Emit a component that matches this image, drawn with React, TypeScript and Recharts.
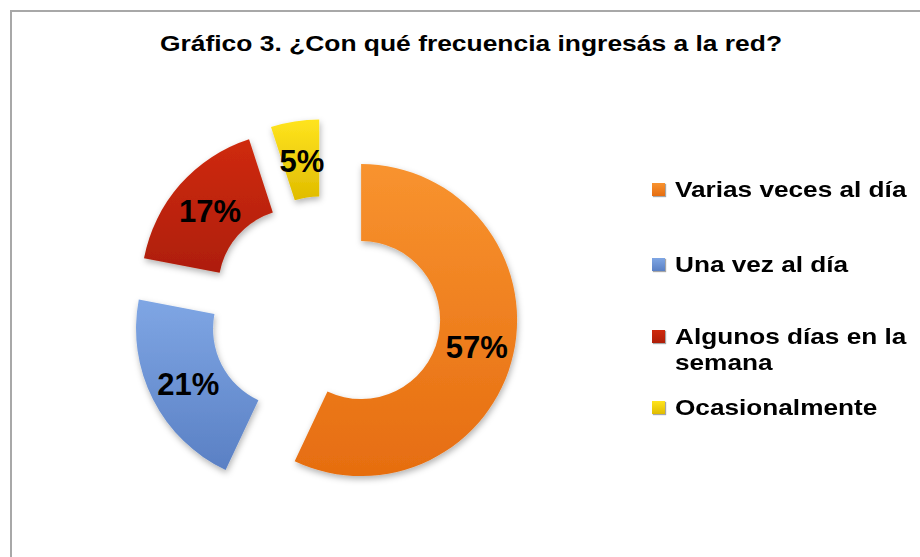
import React from "react";
import { PieChart, Pie, Sector, Legend } from "recharts";

const categories = [
  "Varias veces al día",
  "Una vez al día",
  "Algunos días en la semana",
  "Ocasionalmente",
];
const values = [57, 21, 17, 5];
const titleText = "Gráfico 3. ¿Con qué frecuencia ingresás a la red?";

const colorsTop = ["#F8932F", "#7FA6E4", "#CF2A0D", "#FFE41E"];
const colorsBottom = ["#E66D10", "#5A80C4", "#AE1E08", "#E0BC00"];

const data = categories.map((name, i) => ({ name, value: values[i] }));

const EXPLODE = 37;
const RAD = Math.PI / 180;
const FONT = "'Liberation Sans', Arial, sans-serif";

const renderSlice = (props: any) => {
  const { cx, cy, midAngle, innerRadius, outerRadius, startAngle, endAngle, index, value } = props;
  const ux = Math.cos(-midAngle * RAD);
  const uy = Math.sin(-midAngle * RAD);
  const ncx = cx + EXPLODE * ux;
  const ncy = cy + EXPLODE * uy;
  const mr = (innerRadius + outerRadius) / 2;
  const lx = ncx + mr * ux + 1;
  const ly = ncy + mr * uy + 2;
  return (
    <g key={`slice-${index}`}>
      <Sector
        cx={ncx}
        cy={ncy}
        innerRadius={innerRadius}
        outerRadius={outerRadius}
        startAngle={startAngle}
        endAngle={endAngle}
        fill={`url(#grad${index})`}
        stroke="none"
        filter="url(#shadow)"
      />
      <text
        x={lx}
        y={ly}
        textAnchor="middle"
        dominantBaseline="central"
        fontFamily={FONT}
        fontWeight="bold"
        fontSize={31}
        fill="#000"
      >
        {`${value}%`}
      </text>
    </g>
  );
};

const legendGaps = [0, 49, 46, 19];

const renderLegend = () => {
  return (
    <div style={{ fontFamily: FONT }}>
      {categories.map((cat, i) => (
        <div key={cat} style={{ display: "flex", alignItems: "flex-start", marginTop: legendGaps[i] }}>
          <div
            style={{
              width: 13,
              height: 13,
              marginTop: 6,
              marginRight: 10,
              flex: "0 0 auto",
              background: `linear-gradient(to bottom, ${colorsTop[i]}, ${colorsBottom[i]})`,
              boxShadow: "1px 1px 1px rgba(0,0,0,0.35)",
            }}
          />
          <div
            style={{
              width: 200,
              fontSize: 22,
              lineHeight: "26px",
              fontWeight: "bold",
              color: "#000",
              transform: "scaleX(1.19)",
              transformOrigin: "left top",
              whiteSpace: "normal",
            }}
          >
            {cat}
          </div>
        </div>
      ))}
    </div>
  );
};

export default function App() {
  return (
    <div style={{ position: "absolute", left: 0, top: 0, width: 920, height: 557, background: "#fff", overflow: "hidden" }}>
      <div
        style={{
          position: "absolute",
          left: 10,
          top: 10,
          width: 920,
          height: 560,
          borderTop: "2px solid #A8A8A8",
          borderLeft: "2px solid #A8A8A8",
        }}
      />
      <div
        style={{
          position: "absolute",
          left: 471,
          top: 33,
          fontFamily: FONT,
          fontWeight: "bold",
          fontSize: 22,
          lineHeight: "22px",
          whiteSpace: "nowrap",
          color: "#000",
          transform: "translateX(-50%) scaleX(1.2)",
        }}
      >
        {titleText}
      </div>
      <div style={{ position: "absolute", left: 0, top: 0 }}>
        <PieChart width={920} height={557} margin={{ top: 0, right: 0, bottom: 0, left: 0 }}>
          <defs>
            {colorsTop.map((c, i) => (
              <linearGradient key={i} id={`grad${i}`} x1="0" y1="0" x2="0" y2="1">
                <stop offset="0%" stopColor={c} />
                <stop offset="100%" stopColor={colorsBottom[i]} />
              </linearGradient>
            ))}
            <filter id="shadow" x="-20%" y="-20%" width="140%" height="140%">
              <feDropShadow dx="1" dy="3" stdDeviation="3" floodColor="#000" floodOpacity="0.3" />
            </filter>
          </defs>
          <Pie
            data={data}
            dataKey="value"
            nameKey="name"
            cx={325}
            cy={312}
            innerRadius={79}
            outerRadius={156}
            startAngle={90}
            endAngle={-270}
            fill="none"
            stroke="none"
            label={renderSlice}
            labelLine={false}
            isAnimationActive={false}
          />
          <Legend
            layout="vertical"
            align="right"
            verticalAlign="top"
            content={renderLegend}
            wrapperStyle={{ left: 652, top: 177, width: 268 }}
          />
        </PieChart>
      </div>
    </div>
  );
}
